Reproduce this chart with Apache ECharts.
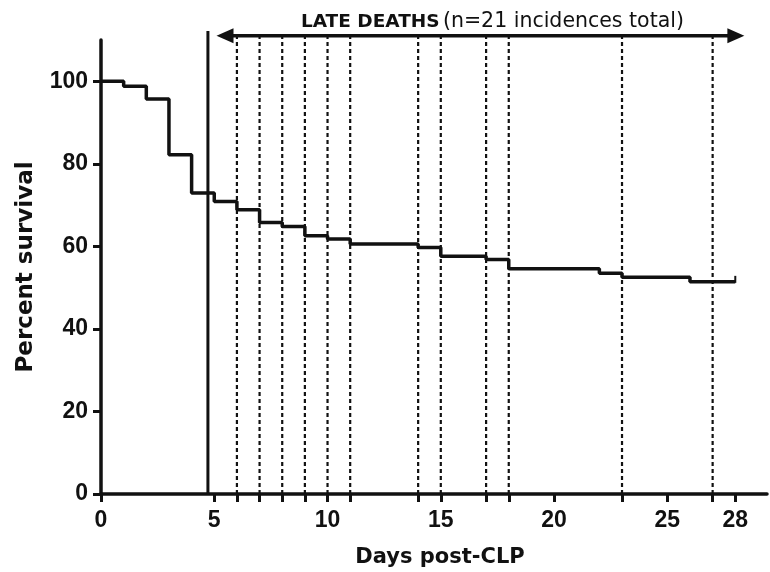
<!DOCTYPE html>
<html>
<head>
<meta charset="utf-8">
<script src="https://cdn.jsdelivr.net/npm/echarts@6/dist/echarts.min.js"></script>
<style>
html,body{margin:0;padding:0;background:#fff;}
#chart{width:770px;height:572px;}
</style>
</head>
<body>
<div id="chart"></div>
<script>
// ---- Data ----
const stepDays      = [0, 1, 2, 3, 4, 5, 6, 7, 8, 9, 10, 11, 14, 15, 17, 18, 22, 23, 26, 28];
const percentSurv   = [100, 98.8, 95.7, 82.2, 72.9, 70.9, 68.9, 65.8, 64.8, 62.6, 61.8, 60.6, 59.7, 57.6, 56.8, 54.6, 53.5, 52.5, 51.4, 51.4];
const censorDays    = [28];
const lateDeathDays = [6, 7, 8, 9, 10, 11, 14, 15, 17, 18, 23, 27];
const earlyLateCut  = [4.72];
const lateSpan      = [5.1, 28.4];
const xTickLabels   = [0, 5, 10, 15, 20, 25, 28];
const yTickLabels   = [0, 20, 40, 60, 80, 100];
const annotation    = ['LATE DEATHS', '(n=21 incidences total)'];

const INK = '#111';
const ARROW_LEVEL = 111;
const CUT_TOP = 112.2;

const kmData = stepDays.map((d, i) => [d, percentSurv[i]]);
const xTickAll = Array.from(new Set(xTickLabels.concat(lateDeathDays))).sort((a, b) => a - b);

const tickFont = {fontFamily: 'Liberation Sans', fontWeight: 'bold', fontSize: 23, color: INK};

const chart = echarts.init(document.getElementById('chart'), null, {renderer: 'canvas'});
chart.setOption({
  animation: false,
  backgroundColor: '#fff',
  grid: {left: 101, right: 3, top: 40, bottom: 78, containLabel: false, outerBoundsMode: 'none'},
  xAxis: {
    type: 'value', min: 0, max: 29.4,
    name: 'Days post-CLP', nameLocation: 'middle', nameGap: 53, nameMoveOverlap: false,
    nameTextStyle: {fontFamily: 'DejaVu Sans', fontWeight: 'bold', fontSize: 21, color: INK, padding: [0, 0, 0, 12]},
    axisLine: {lineStyle: {color: INK, width: 3.5}},
    axisTick: {show: true, length: 8, lineStyle: {color: INK, width: 3}, customValues: xTickAll},
    axisLabel: Object.assign({customValues: xTickLabels, margin: 15}, tickFont),
    splitLine: {show: false}
  },
  yAxis: {
    type: 'value', min: 0, max: 110,
    name: 'Percent survival', nameLocation: 'middle', nameGap: 63, nameMoveOverlap: false,
    nameTextStyle: {fontFamily: 'DejaVu Sans', fontWeight: 'bold', fontSize: 23, color: INK},
    axisLine: {lineStyle: {color: INK, width: 3.5}},
    axisTick: {show: true, length: 8, lineStyle: {color: INK, width: 3}, customValues: yTickLabels},
    axisLabel: Object.assign({customValues: yTickLabels, margin: 13}, tickFont),
    splitLine: {show: false}
  },
  series: [
    {
      type: 'custom', name: 'lateDeaths', clip: false, z: 2,
      data: lateDeathDays.map(d => [d, 0]),
      renderItem: (params, api) => {
        const d = api.value(0);
        const p0 = api.coord([d, 0]);
        const p1 = api.coord([d, ARROW_LEVEL]);
        return {type: 'line', shape: {x1: p0[0], y1: p0[1], x2: p1[0], y2: p1[1]},
                style: {stroke: INK, lineWidth: 2.2, lineDash: [4, 3]}};
      }
    },
    {
      type: 'custom', name: 'cut', clip: false, z: 3,
      data: earlyLateCut.map(d => [d, 0]),
      renderItem: (params, api) => {
        const d = api.value(0);
        const p0 = api.coord([d, 0]);
        const p1 = api.coord([d, CUT_TOP]);
        return {type: 'line', shape: {x1: p0[0], y1: p0[1], x2: p1[0], y2: p1[1]},
                style: {stroke: INK, lineWidth: 3}};
      }
    },
    {
      type: 'custom', name: 'arrow', clip: false, z: 4,
      data: [[lateSpan[0], ARROW_LEVEL]],
      renderItem: (params, api) => {
        const a = api.coord([lateSpan[0], ARROW_LEVEL]);
        const b = api.coord([lateSpan[1], ARROW_LEVEL]);
        const y = a[1], hl = 17, hw = 7.5;
        const cx = (a[0] + b[0]) / 2 + 12;
        return {type: 'group', children: [
          {type: 'line', shape: {x1: a[0] + hl - 2, y1: y, x2: b[0] - hl + 2, y2: y},
           style: {stroke: INK, lineWidth: 3.5}},
          {type: 'polygon', shape: {points: [[a[0], y], [a[0] + hl, y - hw], [a[0] + hl, y + hw]]},
           style: {fill: INK}},
          {type: 'polygon', shape: {points: [[b[0], y], [b[0] - hl, y - hw], [b[0] - hl, y + hw]]},
           style: {fill: INK}},
          {type: 'text', style: {
            x: cx, y: y - 14, align: 'center', verticalAlign: 'middle',
            text: '{b|' + annotation[0] + '} {r|' + annotation[1] + '}',
            rich: {
              b: {fontFamily: 'DejaVu Sans', fontWeight: 'bold', fontSize: 18.5, fill: INK, color: INK},
              r: {fontFamily: 'DejaVu Sans', fontWeight: 'normal', fontSize: 20.5, fill: INK, color: INK}
            }
          }}
        ]};
      }
    },
    {
      type: 'line', name: 'Survival', step: 'end', symbol: 'none', z: 5,
      data: kmData,
      lineStyle: {color: INK, width: 3.5},
      itemStyle: {color: INK}
    },
    {
      type: 'custom', name: 'censor', clip: false, z: 6,
      data: censorDays.map(d => [d, percentSurv[stepDays.indexOf(d)]]),
      renderItem: (params, api) => {
        const p = api.coord([api.value(0), api.value(1)]);
        return {type: 'line', shape: {x1: p[0], y1: p[1] + 1, x2: p[0], y2: p[1] - 6},
                style: {stroke: INK, lineWidth: 2}};
      }
    }
  ]
});
</script>
</body>
</html>
